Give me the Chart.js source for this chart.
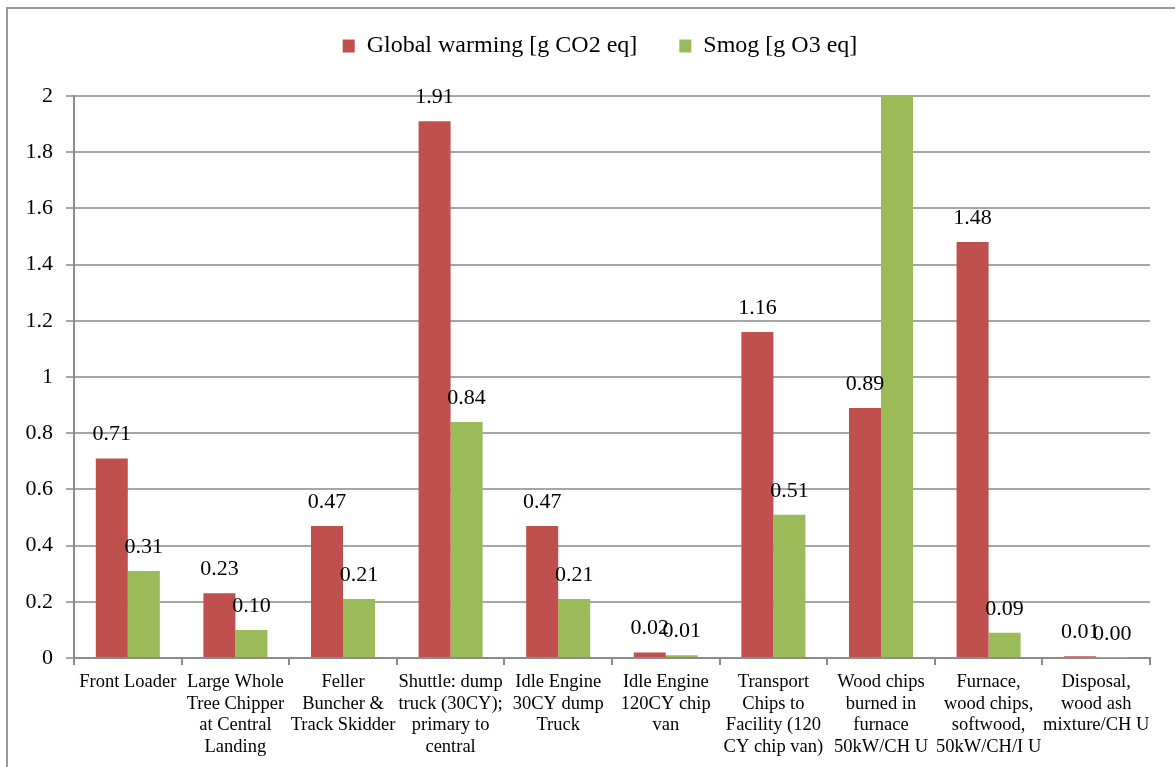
<!DOCTYPE html>
<html>
<head>
<meta charset="utf-8">
<script src="https://cdn.jsdelivr.net/npm/chart.js@4/dist/chart.umd.min.js"></script>
<style>
  html, body { margin: 0; padding: 0; background: #fff; overflow: hidden; }
  #frame { position: absolute; left: 6px; top: 7px; width: 1200px; height: 800px; border-left: 2px solid #9a9a9a; border-top: 2px solid #9a9a9a; box-sizing: border-box; pointer-events: none; }
  #wrap { position: absolute; left: 0; top: 0; width: 1175px; height: 767px; }
</style>
</head>
<body>
<div id="wrap"><canvas id="c" width="1175" height="767"></canvas></div>
<div id="frame"></div>
<script>
const categories = [
  ["Front Loader"],
  ["Large Whole", "Tree Chipper", "at Central", "Landing"],
  ["Feller", "Buncher &", "Track Skidder"],
  ["Shuttle: dump", "truck (30CY);", "primary to", "central"],
  ["Idle Engine", "30CY dump", "Truck"],
  ["Idle Engine", "120CY chip", "van"],
  ["Transport", "Chips to", "Facility (120", "CY chip van)"],
  ["Wood chips", "burned in", "furnace", "50kW/CH U"],
  ["Furnace,", "wood chips,", "softwood,", "50kW/CH/I U"],
  ["Disposal,", "wood ash", "mixture/CH U"]
];
const globalWarming = [0.71, 0.23, 0.47, 1.91, 0.47, 0.02, 1.16, 0.89, 1.48, 0.006];
const smog = [0.31, 0.10, 0.21, 0.84, 0.21, 0.01, 0.51, 2.4, 0.09, 0.001];
const seriesNames = ["Global warming [g CO2 eq]", "Smog [g O3 eq]"];
const yTicks = [0, 0.2, 0.4, 0.6, 0.8, 1, 1.2, 1.4, 1.6, 1.8, 2];

const FONT = "'Liberation Serif', 'Times New Roman', serif";

const valueLabels = {
  id: 'valueLabels',
  afterDatasetsDraw(chart) {
    const ctx = chart.ctx;
    const yMax = chart.scales.y.max;
    ctx.save();
    ctx.font = "22px " + FONT;
    ctx.fillStyle = "#000";
    ctx.textAlign = "center";
    ctx.textBaseline = "alphabetic";
    chart.data.datasets.forEach((ds, i) => {
      const meta = chart.getDatasetMeta(i);
      meta.data.forEach((bar, j) => {
        const v = ds.data[j];
        if (v > yMax) return;
        ctx.fillText(v.toFixed(2), bar.x, bar.y - 18);
      });
    });
    ctx.restore();
  }
};

const legendTweak = {
  id: 'legendTweak',
  beforeInit(chart) {
    const lg = chart.legend;
    if (!lg) return;
    const origFit = lg.fit;
    lg.fit = function () {
      origFit.call(this);
      this.height = 96;
    };
  },
  afterLayout(chart) {
    const lg = chart.legend;
    if (!lg) return;
    lg.left += 25;
    lg.right += 25;
    lg.top -= 8;
    lg.bottom -= 8;
  }
};

new Chart(document.getElementById('c'), {
  type: 'bar',
  data: {
    labels: categories,
    datasets: [
      { label: seriesNames[0], data: globalWarming, backgroundColor: '#C0504D', categoryPercentage: 0.595, barPercentage: 1.0 },
      { label: seriesNames[1], data: smog, backgroundColor: '#9BBB59', categoryPercentage: 0.595, barPercentage: 1.0 }
    ]
  },
  options: {
    responsive: false,
    animation: false,
    layout: { padding: { left: 0, right: 25, top: 0, bottom: 0 } },
    plugins: {
      legend: {
        position: 'top',
        labels: {
          font: { family: FONT, size: 24 },
          color: '#000',
          boxWidth: 12,
          boxHeight: 13,
          padding: 42
        }
      },
      tooltip: { enabled: false }
    },
    scales: {
      x: {
        grid: { display: true, drawOnChartArea: false, drawTicks: true, tickLength: 7, color: '#8c8c8c', lineWidth: 2, offset: true },
        border: { color: '#8c8c8c', width: 2 },
        ticks: { font: { family: FONT, size: 18.5, lineHeight: 1.18 }, color: '#000', maxRotation: 0, minRotation: 0, autoSkip: false, padding: 6 },
        afterFit(scale) { scale.height = 109; }
      },
      y: {
        min: 0,
        max: 2,
        afterBuildTicks(scale) { scale.ticks = yTicks.map(v => ({ value: v })); },
        grid: { color: '#a6a6a6', lineWidth: 2, tickLength: 8 },
        border: { color: '#8c8c8c', width: 2 },
        ticks: { font: { family: FONT, size: 22 }, color: '#000', padding: 13, callback: v => String(v) },
        afterFit(scale) { scale.width = 74; }
      }
    }
  },
  plugins: [valueLabels, legendTweak]
});
</script>
</body>
</html>
